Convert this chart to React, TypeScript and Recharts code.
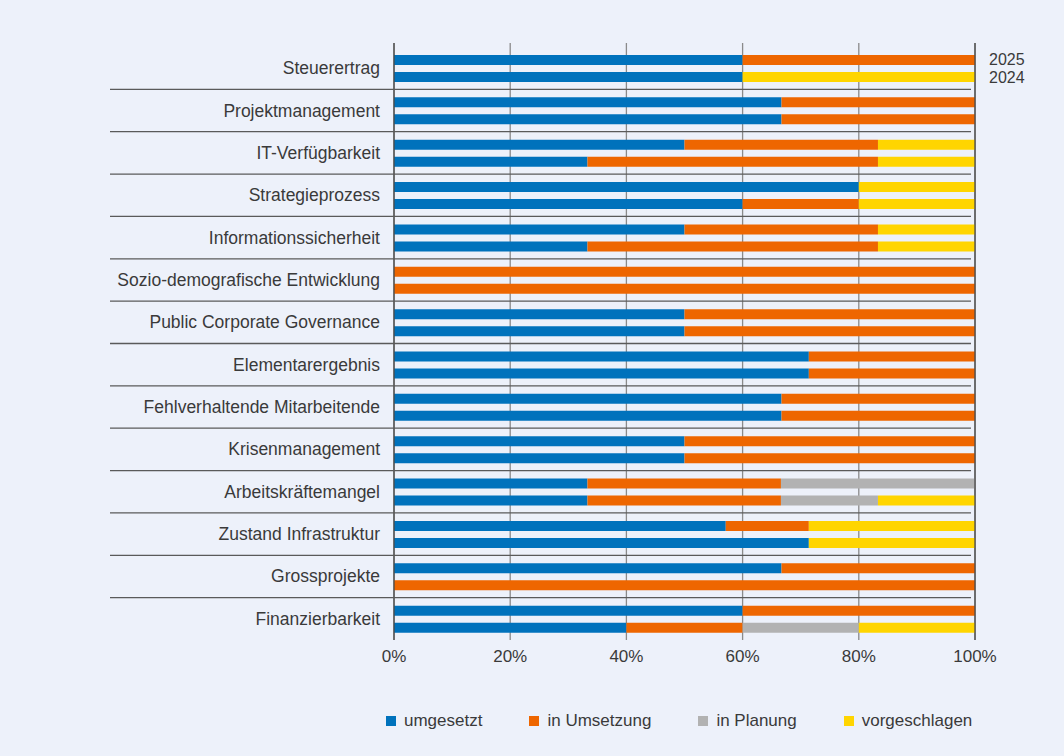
import React from "react";
import {
  BarChart,
  Bar,
  XAxis,
  YAxis,
  CartesianGrid,
  Legend,
  ReferenceLine,
} from "recharts";

const CATEGORIES = [
  "Steuerertrag",
  "Projektmanagement",
  "IT-Verfügbarkeit",
  "Strategieprozess",
  "Informationssicherheit",
  "Sozio-demografische Entwicklung",
  "Public Corporate Governance",
  "Elementarergebnis",
  "Fehlverhaltende Mitarbeitende",
  "Krisenmanagement",
  "Arbeitskräftemangel",
  "Zustand Infrastruktur",
  "Grossprojekte",
  "Finanzierbarkeit",
];

const YEARS = ["2025", "2024"];

const DONE_2025 = [60, 66.7, 50, 80, 50, 0, 50, 71.4, 66.7, 50, 33.3, 57.1, 66.7, 60];
const PROGRESS_2025 = [40, 33.3, 33.3, 0, 33.3, 100, 50, 28.6, 33.3, 50, 33.3, 14.3, 33.3, 40];
const PLANNED_2025 = [0, 0, 0, 0, 0, 0, 0, 0, 0, 0, 33.4, 0, 0, 0];
const PROPOSED_2025 = [0, 0, 16.7, 20, 16.7, 0, 0, 0, 0, 0, 0, 28.6, 0, 0];

const DONE_2024 = [60, 66.7, 33.3, 60, 33.3, 0, 50, 71.4, 66.7, 50, 33.3, 71.4, 0, 40];
const PROGRESS_2024 = [0, 33.3, 50, 20, 50, 100, 50, 28.6, 33.3, 50, 33.3, 0, 100, 20];
const PLANNED_2024 = [0, 0, 0, 0, 0, 0, 0, 0, 0, 0, 16.7, 0, 0, 20];
const PROPOSED_2024 = [40, 0, 16.7, 20, 16.7, 0, 0, 0, 0, 0, 16.7, 28.6, 0, 20];

const X_TICKS = [0, 20, 40, 60, 80, 100];

const SERIES = [
  { key: "done", name: "umgesetzt", color: "#0072BC" },
  { key: "progress", name: "in Umsetzung", color: "#EE6600" },
  { key: "planned", name: "in Planung", color: "#B2B2B2" },
  { key: "proposed", name: "vorgeschlagen", color: "#FFD500" },
];

const data = CATEGORIES.map((name, i) => ({
  name,
  done_2025: DONE_2025[i],
  progress_2025: PROGRESS_2025[i],
  planned_2025: PLANNED_2025[i],
  proposed_2025: PROPOSED_2025[i],
  done_2024: DONE_2024[i],
  progress_2024: PROGRESS_2024[i],
  planned_2024: PLANNED_2024[i],
  proposed_2024: PROPOSED_2024[i],
}));

const W = 1064;
const H = 756;
const PLOT_TOP = 43;
const PLOT_BOTTOM = 640;
const X_AXIS_H = 30;
const LEGEND_H = 20;
const MARGIN = {
  top: PLOT_TOP,
  right: 89,
  bottom: H - PLOT_BOTTOM - X_AXIS_H - LEGEND_H,
  left: 0,
};
const Y_PAD_TOP = 4;
const BAND = (PLOT_BOTTOM - PLOT_TOP - Y_PAD_TOP) / CATEGORIES.length;
const BAR_SIZE = 10;
const BAR_GAP = 7;
const FONT = "'Liberation Sans', Arial, sans-serif";
const TEXT = "#3a3a3a";

const CategoryTick = (props: any) => {
  const { x, y, payload, index } = props;
  const isLast = index === CATEGORIES.length - 1;
  const step = (BAR_SIZE + BAR_GAP) / 2 + 0.5;
  return (
    <g>
      <text
        x={x}
        y={y}
        textAnchor="end"
        dominantBaseline="central"
        fontFamily={FONT}
        fontSize={17.5}
        fill={TEXT}
      >
        {payload.value}
      </text>
      {!isLast && (
        <line
          x1={110}
          x2={971}
          y1={y + BAND / 2}
          y2={y + BAND / 2}
          stroke="#5a5a5a"
          strokeWidth={1.3}
        />
      )}
      {index === 0 &&
        YEARS.map((yr, k) => (
          <text
            key={yr}
            x={989}
            y={y + (k === 0 ? -step : step)}
            dominantBaseline="central"
            fontFamily={FONT}
            fontSize={16}
            fill={TEXT}
          >
            {yr}
          </text>
        ))}
    </g>
  );
};

const LegendContent = () => (
  <div
    style={{
      display: "flex",
      alignItems: "center",
      height: LEGEND_H,
      paddingLeft: 386,
      fontFamily: FONT,
      fontSize: 17,
      color: TEXT,
    }}
  >
    {SERIES.map((s) => (
      <div
        key={s.key}
        style={{ display: "flex", alignItems: "center", marginRight: 47 }}
      >
        <span
          style={{
            display: "inline-block",
            width: 10,
            height: 10,
            background: s.color,
            marginRight: 8,
          }}
        />
        <span>{s.name}</span>
      </div>
    ))}
  </div>
);

export default function App() {
  return (
    <div
      style={{
        position: "absolute",
        left: 0,
        top: 0,
        width: W,
        height: H,
        background: "#EDF1FA",
      }}
    >
      <style>{"body{margin:0}"}</style>
      <BarChart
        width={W}
        height={H}
        data={data}
        layout="vertical"
        margin={MARGIN}
        barSize={BAR_SIZE}
        barGap={BAR_GAP}
      >
        <CartesianGrid horizontal={false} stroke="#8a8a8a" strokeWidth={1.3} />
        <XAxis
          type="number"
          domain={[0, 100]}
          ticks={X_TICKS}
          tickFormatter={(v: number) => `${v}%`}
          axisLine={false}
          tickLine={false}
          tickMargin={4}
          height={X_AXIS_H}
          tick={{ fontFamily: FONT, fontSize: 17, fill: TEXT }}
          allowDataOverflow
        />
        <YAxis
          type="category"
          dataKey="name"
          width={394}
          axisLine={false}
          tickLine={false}
          tickMargin={8}
          padding={{ top: Y_PAD_TOP, bottom: 0 }}
          interval={0}
          tick={<CategoryTick />}
        />
        <ReferenceLine x={0} stroke="#4a4a4a" strokeWidth={1.3} />
        <ReferenceLine x={100} stroke="#4a4a4a" strokeWidth={1.3} />
        {YEARS.map((year, yi) =>
          SERIES.map((s) => (
            <Bar
              key={`${s.key}_${year}`}
              dataKey={`${s.key}_${year}`}
              name={s.name}
              stackId={`${String.fromCharCode(97 + yi)}_${year}`}
              fill={s.color}
              isAnimationActive={false}
              legendType={year === "2025" ? "square" : "none"}
            />
          ))
        )}
        <Legend
          content={<LegendContent />}
          wrapperStyle={{ top: 711, left: 0, width: W }}
        />
      </BarChart>
    </div>
  );
}
